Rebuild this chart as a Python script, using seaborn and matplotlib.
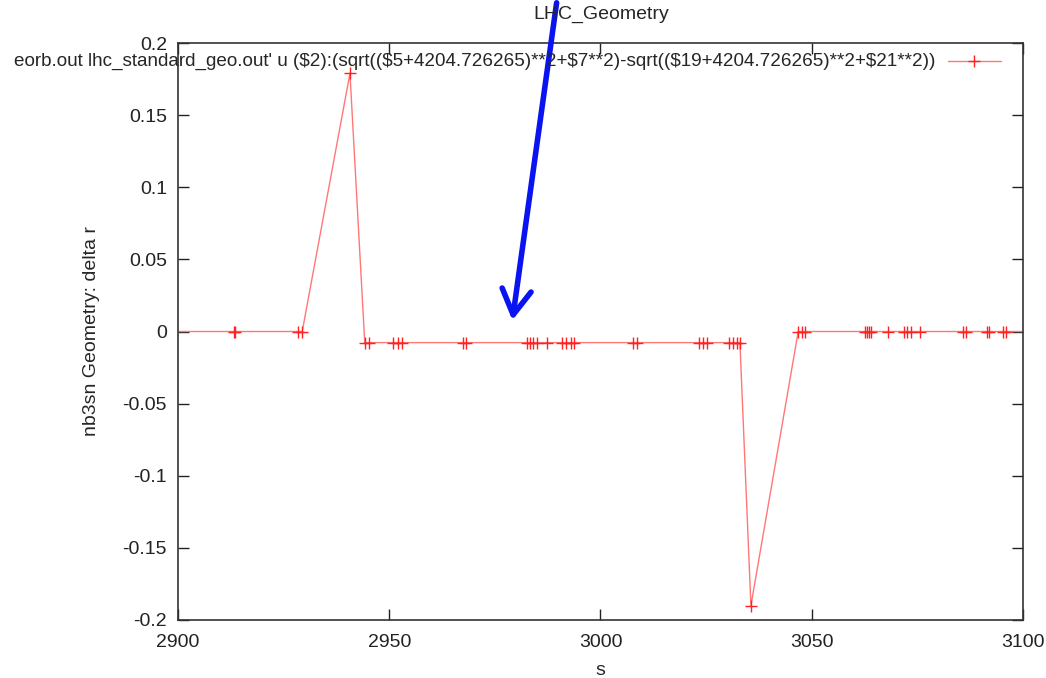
import matplotlib
matplotlib.use("Agg")
import matplotlib.pyplot as plt
import seaborn as sns
import pandas as pd
import numpy as np

# data
s_vals = [2890.0, 2913.2, 2913.6, 2928.4, 2929.4, 2940.7,
          2944.2, 2945.1, 2950.9, 2952.1, 2953.0, 2967.5, 2968.2,
          2982.7, 2983.3, 2984.1, 2985.0, 2987.4, 2991.0, 2991.9, 2992.9, 2993.7,
          3007.8, 3008.6, 3023.4, 3024.2, 3025.1, 3030.3, 3031.3, 3032.2, 3033.0,
          3035.6,
          3046.8, 3047.6, 3048.4, 3062.6, 3063.1, 3063.5, 3064.0, 3068.1,
          3071.8, 3072.6, 3073.4, 3075.6, 3085.7, 3086.5, 3091.4, 3092.0,
          3095.2, 3096.0, 3110.0]
dr_vals = [0.0, 0.0, 0.0, 0.0, 0.0, 0.179,
           -0.0077, -0.0077, -0.0077, -0.0077, -0.0077, -0.0077, -0.0077,
           -0.0077, -0.0077, -0.0077, -0.0077, -0.0077, -0.0077, -0.0077, -0.0077, -0.0077,
           -0.0077, -0.0077, -0.0077, -0.0077, -0.0077, -0.0077, -0.0077, -0.0077, -0.0077,
           -0.190,
           0.0, 0.0, 0.0, 0.0, 0.0, 0.0, 0.0, 0.0,
           0.0, 0.0, 0.0, 0.0, 0.0, 0.0, 0.0, 0.0,
           0.0, 0.0, 0.0]
x_ticks = [2900, 2950, 3000, 3050, 3100]
y_ticks = [-0.2, -0.15, -0.1, -0.05, 0, 0.05, 0.1, 0.15, 0.2]
y_tick_labels = ["-0.2", "-0.15", "-0.1", "-0.05", "0", "0.05", "0.1", "0.15", "0.2"]
legend_text = ("eorb.out lhc_standard_geo.out' u ($2):(sqrt(($5+4204.726265)**2+$7**2)"
               "-sqrt(($19+4204.726265)**2+$21**2))")

df = pd.DataFrame({"s": s_vals, "dr": dr_vals})

sns.set_theme(style="ticks")
plt.rcParams["font.family"] = ["Liberation Sans", "DejaVu Sans"]

FS = 14
fig = plt.figure(figsize=(10.46, 6.78), dpi=100)
W, H = 1046, 678
ax = fig.add_axes([178 / W, 1 - 620 / H, (1023 - 178) / W, (620 - 43) / H])

line_color = "#ff7777"
sns.lineplot(data=df, x="s", y="dr", ax=ax, sort=False, color=line_color,
             linewidth=1.0, marker="+", markersize=9, markeredgewidth=1.0,
             markeredgecolor="#ff2020", legend=False)

ax.set_xlim(2900, 3100)
ax.set_ylim(-0.2, 0.2)
ax.set_xticks(x_ticks)
ax.set_xticklabels([str(t) for t in x_ticks])
ax.set_yticks(y_ticks)
ax.set_yticklabels(y_tick_labels)
ax.tick_params(direction="in", length=8, width=1, top=True, right=True,
               labelsize=FS, colors="#222222", pad=8)
ax.tick_params(axis="x", pad=10)
for sp in ax.spines.values():
    sp.set_color("#333333")
    sp.set_linewidth(1.2)

ax.set_xlabel("s", fontsize=FS, labelpad=8)
ax.set_ylabel("nb3sn Geometry: delta r", fontsize=FS, labelpad=16)
fig.text(601 / W, 1 - 14 / H, "LHC_Geometry", ha="center", va="center", fontsize=FS)

# key (gnuplot-style)
fig.text(935 / W, 1 - 61 / H, legend_text, ha="right", va="center", fontsize=13.6)
fig.add_artist(plt.Line2D([948 / W, 1001 / W], [1 - 61 / H, 1 - 61 / H],
                          transform=fig.transFigure, color=line_color, lw=1.0))
fig.add_artist(plt.Line2D([974 / W], [1 - 61 / H], transform=fig.transFigure,
                          marker="+", markersize=9, color="#ff2020", lw=0))

# blue annotation arrow overlay
fig.add_artist(matplotlib.patches.FancyArrowPatch(
    (557 / W, 1.0), (512 / W, 1 - 323 / H), transform=fig.transFigure,
    arrowstyle="->,head_length=12,head_width=7", color="#0a14f0", lw=4.0,
    mutation_scale=1.5))

fig.savefig("out.png", dpi=100)
